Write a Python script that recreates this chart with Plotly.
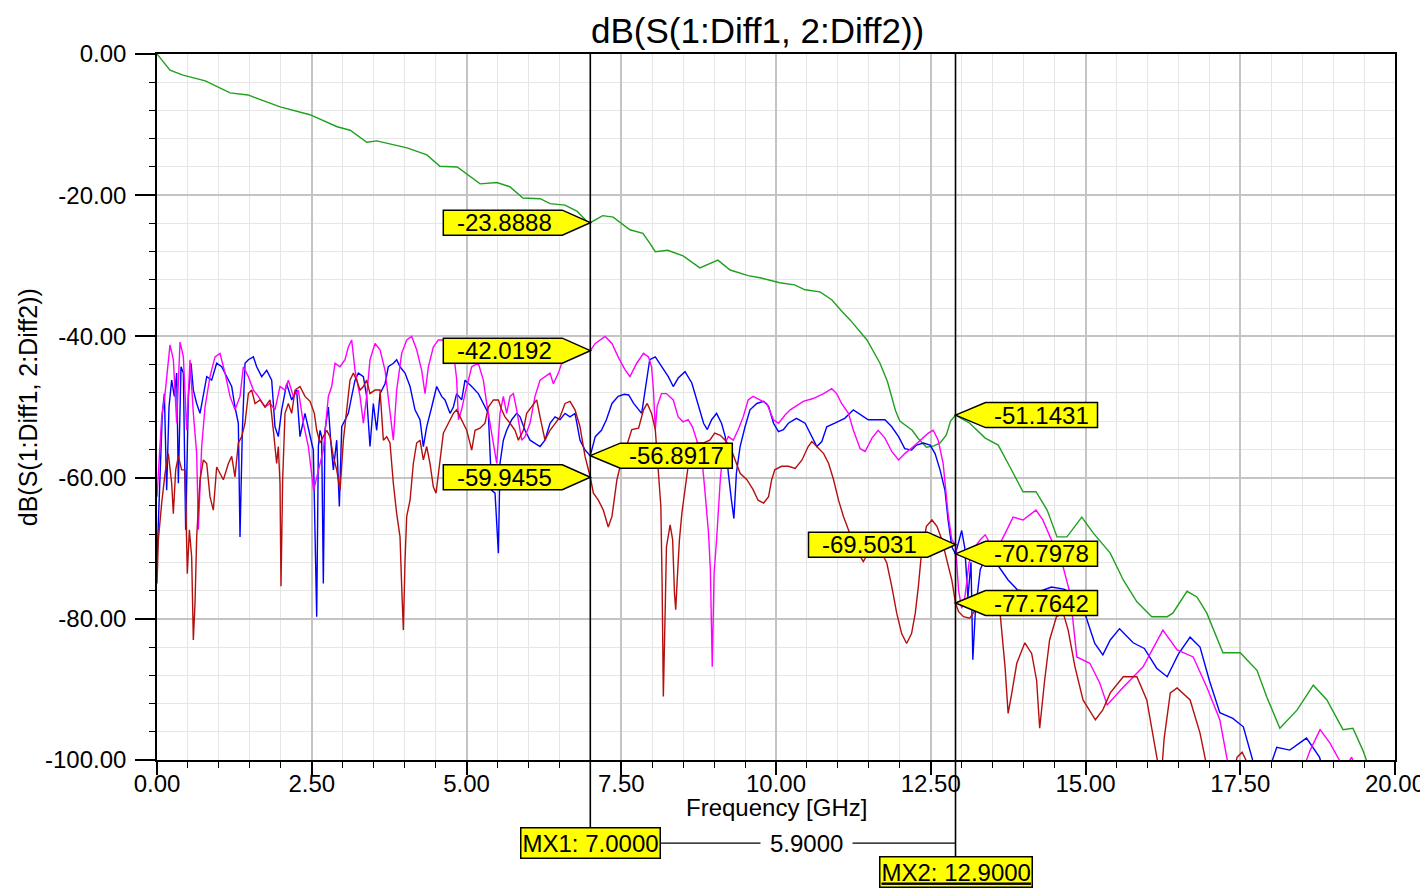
import plotly.graph_objects as go

# ---------------- data ----------------
green_freq = [0, 0.21, 0.42, 0.78, 1.18, 1.47, 1.99, 2.47, 2.91, 3.12, 3.39, 3.55, 4.04, 4.36, 4.57, 4.85,
              5.22, 5.49, 5.70, 5.91, 6.19, 6.35, 6.59, 6.79, 6.95, 7.0, 7.2, 7.37, 7.64, 7.85, 7.96, 8.05,
              8.25, 8.5, 8.77, 9.06, 9.26, 9.55, 9.74, 10.06, 10.3, 10.47, 10.71, 10.9, 11.07, 11.2, 11.47,
              11.68, 11.8, 11.93, 12.0, 12.2, 12.3, 12.43, 12.55, 12.65, 12.75, 12.82, 12.9, 13.13, 13.38,
              13.59, 13.78, 13.99, 14.2, 14.38, 14.54, 14.7, 14.94, 15.12, 15.4, 15.61, 15.83, 16.07, 16.32,
              16.41, 16.64, 16.8, 16.96, 17.22, 17.5, 17.77, 17.93, 18.14, 18.42, 18.68, 18.9, 19.16, 19.32,
              19.48, 19.6]
green_db = [0, -2.3, -3.0, -3.8, -5.5, -5.8, -7.5, -8.6, -10.3, -10.8, -12.5, -12.3, -13.3, -14.3, -15.9, -16.0,
            -18.4, -18.2, -18.8, -20.4, -20.5, -21.2, -21.4, -22.3, -23.75, -23.89, -22.9, -23.1, -24.9, -25.4, -26.8, -28.0,
            -27.8, -28.6, -30.3, -29.2, -30.6, -31.4, -31.7, -32.4, -32.7, -33.4, -33.7, -34.8, -36.5, -37.7, -40.5,
            -43.8, -46.4, -50.5, -52.0, -53.3, -54.5, -55.7, -55.5, -55.1, -54.0, -52.0, -51.14, -52.3, -54.4,
            -55.4, -58.5, -62.0, -62.0, -64.6, -68.4, -68.4, -65.6, -67.8, -70.7, -74.5, -77.6, -79.7, -79.7,
            -79.2, -76.1, -76.9, -79.2, -84.8, -84.8, -87.3, -91.1, -95.5, -92.9, -89.4, -91.5, -95.7, -95.5,
            -98.6, -101.5]

blue_freq = [0.0, 0.049, 0.086, 0.119, 0.156, 0.194, 0.237, 0.280, 0.318, 0.345, 0.388, 0.426, 0.463, 0.507, 0.550,
             0.587, 0.641, 0.695, 0.749, 0.803, 0.883, 0.964, 1.045, 1.126, 1.207, 1.260, 1.314, 1.341, 1.379, 1.422,
             1.476, 1.557, 1.610, 1.691, 1.772, 1.853, 1.906, 1.960, 2.014, 2.095, 2.176, 2.256, 2.310, 2.391, 2.445,
             2.499, 2.526, 2.580, 2.607, 2.634, 2.660, 2.687, 2.714, 2.768, 2.806, 2.849, 2.903, 2.946, 2.984, 3.037,
             3.091, 3.145, 3.199, 3.253, 3.334, 3.387, 3.441, 3.495, 3.549, 3.603, 3.684, 3.737, 3.818, 3.872, 3.926,
             4.007, 4.088, 4.168, 4.249, 4.303, 4.357, 4.438, 4.518, 4.599, 4.653, 4.734, 4.788, 4.841, 4.922, 4.976,
             5.046, 5.084, 5.191, 5.299, 5.353, 5.407, 5.461, 5.515, 5.541, 5.595, 5.649, 5.730, 5.811, 5.865, 5.945,
             6.026, 6.107, 6.188, 6.268, 6.349, 6.430, 6.511, 6.592, 6.672, 6.753, 6.834, 6.915, 7.0, 7.08, 7.18,
             7.26, 7.35, 7.45, 7.55, 7.62, 7.70, 7.83, 7.91, 7.96, 8.05, 8.15, 8.26, 8.34, 8.42, 8.53, 8.64, 8.75,
             8.83, 8.89, 8.96, 9.04, 9.12, 9.18, 9.23, 9.28, 9.32, 9.36, 9.42, 9.50, 9.58, 9.69, 9.80, 9.88, 9.96,
             10.04, 10.12, 10.20, 10.33, 10.47, 10.58, 10.66, 10.74, 10.82, 10.95, 11.11, 11.25, 11.38, 11.49, 11.63,
             11.76, 11.87, 11.98, 12.08, 12.19, 12.27, 12.38, 12.49, 12.57, 12.65, 12.73, 12.78, 12.84, 12.9, 12.95,
             13.0, 13.05, 13.1, 13.15, 13.18, 13.22, 13.3, 13.4, 13.55, 13.75, 13.9, 14.2, 14.45, 14.65, 14.8, 15.0,
             15.15, 15.28, 15.4, 15.55, 15.77, 15.95, 16.15, 16.32, 16.5, 16.69, 16.85, 17.0, 17.17, 17.38, 17.55,
             17.7, 17.85, 18.0, 18.09, 18.3, 18.57, 18.78, 18.9, 19.2]
blue_db = [-71.7, -58.0, -50.9, -48.1, -61.8, -50.0, -46.2, -48.5, -45.2, -60.8, -44.3, -45.2, -67.4, -48.5, -43.8,
           -47.6, -49.5, -50.9, -48.1, -45.7, -46.2, -43.8, -44.3, -45.7, -47.1, -50.0, -52.3, -68.4, -53.3, -43.8,
           -43.3, -42.9, -44.3, -45.7, -44.8, -46.2, -52.8, -54.2, -50.4, -46.7, -49.0, -47.6, -54.2, -50.9, -52.8,
           -55.1, -56.1, -79.7, -55.6, -53.3, -54.2, -75.0, -53.3, -50.0, -54.7, -58.9, -54.7, -64.1, -52.8, -51.8,
           -50.9, -48.5, -46.2, -45.2, -45.7, -48.5, -55.6, -49.5, -53.3, -48.1, -46.7, -44.3, -43.8, -43.3, -44.3,
           -45.2, -47.1, -50.4, -51.8, -55.6, -52.8, -50.0, -47.1, -48.5, -49.0, -50.9, -50.0, -48.1, -49.0, -46.2,
           -46.7, -47.1, -48.1, -50.0, -50.9, -61.8, -62.2, -70.7, -58.0, -54.7, -53.3, -51.8, -50.9, -51.4, -53.3,
           -54.7, -55.1, -55.6, -54.7, -52.3, -51.4, -51.8, -50.9, -51.4, -50.9, -54.7, -56.1, -56.89, -54.2, -53.3,
           -51.8, -49.5, -48.5, -48.2, -48.3, -49.5, -50.9, -46.2, -43.3, -42.9, -44.3, -45.7, -47.1, -45.9, -45.0,
           -46.6, -49.9, -52.3, -53.2, -51.8, -50.9, -52.3, -54.2, -59.4, -63.2, -65.8, -59.4, -55.6, -52.8, -50.4,
           -49.5, -49.2, -49.9, -52.3, -53.5, -53.2, -52.3, -51.6, -52.3, -54.2, -55.6, -54.9, -52.8, -52.3, -51.6,
           -50.4, -51.1, -51.8, -51.8, -51.8, -52.8, -54.2, -55.9, -56.1, -55.4, -55.1, -55.4, -56.6, -58.9, -61.8,
           -66.0, -69.8, -70.80, -69.0, -67.5, -70.0, -77.0, -72.0, -85.8, -79.0, -73.0, -71.0, -72.0, -74.5, -75.9,
           -76.3, -75.5, -75.8, -76.5, -79.5, -83.5, -85.1, -83.0, -81.4, -83.4, -84.2, -87.0, -88.2, -85.0, -82.6,
           -84.0, -88.7, -93.3, -94.1, -95.3, -100.0, -103.0, -100.5, -98.2, -98.6, -96.9, -99.6, -103.0, -105.0]

magenta_freq = [0.0, 0.033, 0.076, 0.130, 0.183, 0.210, 0.264, 0.318, 0.372, 0.426, 0.480, 0.533, 0.587, 0.641, 0.668,
                0.722, 0.776, 0.856, 0.937, 1.018, 1.099, 1.180, 1.260, 1.341, 1.395, 1.476, 1.557, 1.637, 1.745, 1.826,
                1.906, 1.987, 2.068, 2.122, 2.203, 2.283, 2.364, 2.445, 2.53, 2.634, 2.687, 2.768, 2.822, 2.876, 2.957,
                3.037, 3.091, 3.145, 3.199, 3.280, 3.334, 3.387, 3.441, 3.522, 3.603, 3.684, 3.764, 3.818, 3.872, 3.953,
                4.034, 4.114, 4.195, 4.276, 4.330, 4.384, 4.464, 4.545, 4.626, 4.70, 4.78, 4.84, 4.87, 4.92, 4.98, 5.03,
                5.084, 5.191, 5.272, 5.326, 5.407, 5.461, 5.488, 5.541, 5.595, 5.649, 5.703, 5.757, 5.811, 5.891, 5.945,
                6.026, 6.107, 6.188, 6.268, 6.349, 6.403, 6.484, 6.538, 6.592, 6.75, 6.9, 7.0, 7.08, 7.24, 7.35, 7.45,
                7.56, 7.64, 7.75, 7.86, 7.94, 7.99, 8.02, 8.05, 8.08, 8.15, 8.23, 8.34, 8.42, 8.50, 8.58, 8.65, 8.72,
                8.80, 8.85, 8.91, 8.94, 8.97, 9.00, 9.04, 9.10, 9.15, 9.23, 9.31, 9.39, 9.47, 9.55, 9.63, 9.74, 9.85,
                9.96, 10.04, 10.15, 10.23, 10.44, 10.60, 10.77, 10.90, 10.98, 11.06, 11.17, 11.25, 11.36, 11.44, 11.55,
                11.65, 11.76, 11.87, 11.98, 12.08, 12.22, 12.33, 12.46, 12.54, 12.62, 12.70, 12.78, 12.84, 12.9, 12.95,
                13.0, 13.05, 13.12, 13.2, 13.3, 13.38, 13.54, 13.73, 13.83, 13.99, 14.2, 14.31, 14.43, 14.64, 14.75,
                14.86, 15.07, 15.23, 15.35, 15.61, 15.93, 16.25, 16.48, 16.74, 16.96, 17.17, 17.29, 17.5, 18.4, 18.63,
                18.79, 18.95, 19.1, 19.2, 19.3, 19.4]
magenta_db = [-62.7, -57.5, -51.4, -48.1, -43.8, -41.2, -43.3, -52.3, -40.8, -42.9, -53.3, -43.3, -50.9, -56.6, -67.4,
              -55.6, -50.0, -45.7, -42.9, -42.4, -45.2, -48.5, -50.4, -48.5, -44.3, -45.7, -47.6, -48.5, -50.0, -49.5,
              -50.4, -47.1, -47.6, -46.2, -48.5, -47.6, -52.3, -55.6, -61.8, -58.0, -56.1, -48.5, -47.1, -43.8, -44.3,
              -43.3, -41.5, -40.5, -44.8, -48.5, -52.3, -48.5, -43.3, -41.0, -41.9, -44.8, -50.9, -54.7, -47.6, -42.4,
              -40.5, -40.0, -41.9, -44.8, -48.1, -44.3, -41.5, -40.5, -40.5, -40.3, -41.5, -46.0, -51.8, -50.4, -48.0, -46.2,
              -44.3, -43.8, -46.2, -49.5, -53.7, -57.0, -58.0, -50.9, -48.5, -50.9, -48.5, -48.1, -50.4, -54.7, -54.2,
              -52.3, -48.5, -46.2, -45.7, -45.2, -46.7, -45.2, -43.8, -42.9, -42.6, -42.3, -42.02, -41.0, -40.0, -41.0, -42.9,
              -44.7, -45.7, -43.8, -42.4, -42.9, -44.3, -47.6, -53.2, -49.9, -48.1, -48.1, -49.0, -51.4, -52.1, -51.8, -52.8, -54.7,
              -57.0, -61.7, -67.9, -73.1, -86.8, -73.5, -68.8, -60.3, -55.6, -54.2, -54.7, -53.2, -51.4, -49.0, -48.5, -49.0, -49.5,
              -51.8, -52.3, -51.1, -50.4, -49.2, -48.8, -48.1, -47.4, -48.1, -49.5, -50.9, -53.3, -55.9, -56.3, -54.4,
              -53.3, -54.4, -56.3, -57.5, -56.6, -55.6, -54.7, -53.7, -53.3, -54.7, -58.0, -65.1, -68.8, -69.50, -76.0,
              -78.5, -77.0, -72.0, -70.0, -68.8, -68.1, -70.7, -67.4, -65.6, -66.0, -64.6, -66.0, -68.4, -72.7, -76.4,
              -85.4, -86.3, -89.1, -92.2, -89.7, -86.8, -81.6, -84.4, -85.4, -89.7, -94.3, -100.0, -104.0, -104.0, -98.6,
              -95.7, -97.6, -100.0, -101.0, -99.6, -102.0]

red_freq = [0.0, 0.022, 0.076, 0.130, 0.183, 0.237, 0.264, 0.302, 0.345, 0.399, 0.453, 0.490, 0.523, 0.560, 0.587,
            0.614, 0.641, 0.695, 0.749, 0.803, 0.856, 0.910, 0.964, 1.018, 1.072, 1.153, 1.207, 1.260, 1.314, 1.368,
            1.422, 1.476, 1.530, 1.584, 1.664, 1.745, 1.826, 1.880, 1.933, 1.960, 1.987, 2.003, 2.030, 2.068, 2.122,
            2.176, 2.230, 2.310, 2.391, 2.472, 2.542, 2.580, 2.634, 2.687, 2.741, 2.795, 2.849, 2.903, 2.957, 3.011,
            3.064, 3.118, 3.172, 3.226, 3.280, 3.334, 3.387, 3.441, 3.522, 3.603, 3.657, 3.711, 3.764, 3.818, 3.872,
            3.926, 3.953, 3.980, 4.007, 4.034, 4.088, 4.141, 4.195, 4.249, 4.303, 4.357, 4.410, 4.464, 4.508, 4.572,
            4.626, 4.707, 4.788, 4.841, 4.922, 5.003, 5.030, 5.084, 5.138, 5.218, 5.299, 5.353, 5.434, 5.515, 5.568,
            5.622, 5.703, 5.784, 5.838, 5.918, 5.972, 6.053, 6.134, 6.188, 6.268, 6.349, 6.430, 6.511, 6.592, 6.672,
            6.753, 6.834, 6.915, 7.0, 7.05, 7.13, 7.21, 7.29, 7.35, 7.43, 7.48, 7.55, 7.61, 7.67, 7.78, 7.86, 7.92,
            7.99, 8.05, 8.10, 8.14, 8.16, 8.18, 8.21, 8.23, 8.29, 8.33, 8.36, 8.38, 8.41, 8.44, 8.48, 8.53, 8.58,
            8.64, 8.72, 8.83, 8.93, 9.01, 9.10, 9.18, 9.26, 9.34, 9.42, 9.53, 9.63, 9.71, 9.80, 9.88, 9.93, 9.98,
            10.09, 10.2, 10.31, 10.42, 10.52, 10.58, 10.66, 10.77, 10.85, 10.93, 11.01, 11.09, 11.17, 11.25, 11.33,
            11.41, 11.49, 11.60, 11.71, 11.79, 11.87, 11.95, 12.03, 12.11, 12.19, 12.25, 12.30, 12.35, 12.43, 12.52,
            12.60, 12.68, 12.76, 12.84, 12.9, 12.95, 13.03, 13.13, 13.24, 13.4, 13.5, 13.62, 13.70, 13.75, 13.80,
            13.89, 14.02, 14.13, 14.21, 14.26, 14.34, 14.42, 14.53, 14.64, 14.72, 14.83, 14.96, 15.16, 15.28, 15.40,
            15.61, 15.83, 15.99, 16.09, 16.17, 16.22, 16.27, 16.37, 16.48, 16.69, 16.85, 16.95, 17.1, 17.35, 17.45,
            17.53, 17.62, 17.8]
red_db = [-75.0, -68.8, -63.6, -59.4, -56.6, -60.8, -65.1, -58.9, -57.0, -58.9, -58.9, -73.6, -67.4, -71.2, -83.0,
          -77.8, -68.4, -60.3, -57.5, -58.0, -62.7, -64.6, -58.5, -59.4, -60.3, -58.0, -57.0, -59.9, -55.1, -54.2,
          -52.3, -48.1, -47.6, -49.5, -49.0, -50.0, -49.0, -53.3, -58.0, -55.6, -60.8, -75.4, -60.3, -50.9, -49.5,
          -50.9, -47.6, -47.1, -48.5, -49.2, -50.9, -53.3, -55.1, -54.2, -53.3, -54.2, -57.0, -58.9, -61.8, -54.7,
          -50.0, -46.2, -45.2, -46.2, -47.6, -47.1, -46.2, -48.1, -47.6, -47.6, -54.7, -54.2, -55.1, -60.8, -65.1,
          -68.4, -75.4, -81.6, -71.7, -65.5, -63.2, -58.0, -55.1, -54.7, -57.5, -55.6, -58.0, -61.3, -62.2, -58.0,
          -53.7, -52.3, -50.9, -50.4, -51.8, -53.3, -54.2, -56.1, -53.3, -53.0, -52.3, -50.0, -49.0, -49.0, -50.4,
          -51.4, -52.3, -53.3, -54.7, -53.3, -50.9, -50.0, -49.0, -51.4, -54.7, -53.3, -52.3, -51.4, -49.5, -49.2,
          -50.4, -52.8, -57.0, -59.95, -62.2, -63.2, -64.6, -67.0, -65.5, -60.3, -58.5, -56.5, -54.7, -53.2, -53.0, -50.4, -49.5,
          -50.9, -53.2, -58.9, -64.1, -75.0, -91.0, -78.7, -69.8, -66.7, -68.8, -76.4, -78.7, -73.5, -68.8, -65.0, -61.3, -58.4,
          -56.5, -55.1, -55.1, -54.7, -53.7, -54.0, -54.7, -55.6, -57.5, -59.4, -60.3, -61.7, -63.2, -63.6, -62.7, -60.3, -58.9,
          -58.4, -58.4, -58.7, -57.5, -55.6, -54.9, -55.6, -56.6, -58.0, -60.3, -63.2, -65.5, -67.4, -69.3, -70.7,
          -71.9, -70.7, -70.5, -70.7, -72.1, -75.4, -79.2, -82.1, -83.5, -82.1, -79.2, -75.4, -70.7, -66.9, -66.0,
          -66.9, -68.8, -71.7, -74.5, -77.76, -79.0, -79.7, -79.9, -78.5, -77.5, -78.0, -79.2, -86.8, -93.4, -91.0,
          -86.3, -83.4, -84.9, -88.7, -95.5, -88.7, -83.0, -79.7, -79.2, -81.6, -86.8, -91.5, -94.3, -92.9, -90.5,
          -88.2, -88.2, -91.5, -96.2, -100.0, -103.0, -97.0, -90.5, -89.8, -91.5, -96.2, -100.5, -105.0, -103.0, -99.6,
          -98.9, -100.5, -104.0]

# marker positions and readouts
marker_names = ["MX1", "MX2"]
marker_freqs = [7.0, 12.9]
marker_delta = 5.9
mx1_readouts = [-23.8888, -42.0192, -56.8917, -59.9455]
mx1_sides = ["left", "left", "right", "left"]
mx2_readouts = [-51.1431, -69.5031, -70.7978, -77.7642]
mx2_sides = ["right", "left", "right", "right"]

y_tick_vals = [0, -20, -40, -60, -80, -100]
y_tick_text = ["0.00", "-20.00", "-40.00", "-60.00", "-80.00", "-100.00"]
x_tick_vals = [0, 2.5, 5, 7.5, 10, 12.5, 15, 17.5, 20]
x_tick_text = ["0.00", "2.50", "5.00", "7.50", "10.00", "12.50", "15.00", "17.50", "20.00"]

title_text = "dB(S(1:Diff1, 2:Diff2))"
x_title = "Frequency [GHz]"

# ---------------- figure ----------------
FONT = "Liberation Sans, Arial, sans-serif"
series = [
    (green_freq, green_db, "#1fa01f"),
    (blue_freq, blue_db, "#0000ff"),
    (magenta_freq, magenta_db, "#ff00ff"),
    (red_freq, red_db, "#b40f0f"),
]

fig = go.Figure()
for fx, fy, col in series:
    fig.add_trace(go.Scatter(x=fx, y=fy, mode="lines", line=dict(color=col, width=1.4),
                             showlegend=False, hoverinfo="skip"))

shapes = []
annotations = []

# marker vertical lines
marker_line_bottom = [-0.1176, -0.1586]
for mf, yb in zip(marker_freqs, marker_line_bottom):
    shapes.append(dict(type="line", xref="x", yref="paper", x0=mf, x1=mf, y0=yb, y1=1,
                       line=dict(color="black", width=1.6), layer="above"))

# delta line
shapes.append(dict(type="line", xref="x", yref="paper", x0=marker_freqs[0], x1=marker_freqs[1],
                   y0=-0.1176, y1=-0.1176, line=dict(color="black", width=1.3), layer="above"))


def readout(freq, val, side):
    if side == "left":
        path = "M0,0 L-28,12.5 L-147,12.5 L-147,-12.5 L-28,-12.5 Z"
        shift = -86
    else:
        path = "M0,0 L30,12.5 L142,12.5 L142,-12.5 L30,-12.5 Z"
        shift = 86
    shapes.append(dict(type="path", xref="x", yref="y", xsizemode="pixel", ysizemode="pixel",
                       xanchor=freq, yanchor=val, path=path, fillcolor="#ffff00",
                       line=dict(color="black", width=1.5), layer="above"))
    annotations.append(dict(x=freq, y=val, xref="x", yref="y", text="%.4f" % val, showarrow=False,
                            xshift=shift, yshift=0, font=dict(family=FONT, size=24, color="black"),
                            xanchor="center", yanchor="middle"))


for v, s in zip(mx1_readouts, mx1_sides):
    readout(marker_freqs[0], v, s)
for v, s in zip(mx2_readouts, mx2_sides):
    readout(marker_freqs[1], v, s)

# marker name boxes
annotations.append(dict(x=marker_freqs[0], y=-0.1176, xref="x", yref="paper",
                        text="%s: %.4f" % (marker_names[0], marker_freqs[0]), showarrow=False,
                        font=dict(family=FONT, size=24, color="black"), bgcolor="#ffff00",
                        bordercolor="black", borderwidth=1.5, borderpad=1, xanchor="center", yanchor="middle"))
annotations.append(dict(x=marker_freqs[1], y=-0.1586, xref="x", yref="paper",
                        text="<u>%s: %.4f</u>" % (marker_names[1], marker_freqs[1]), showarrow=False,
                        font=dict(family=FONT, size=24, color="black"), bgcolor="#ffff00",
                        bordercolor="black", borderwidth=1.5, borderpad=1, xanchor="center", yanchor="middle"))
annotations.append(dict(x=(marker_freqs[0] + marker_freqs[1]) / 2, y=-0.1176, xref="x", yref="paper",
                        text="%.4f" % marker_delta, showarrow=False, xshift=34,
                        font=dict(family=FONT, size=24, color="black"), bgcolor="white",
                        borderpad=9, xanchor="center", yanchor="middle"))

# title
annotations.append(dict(x=0.485, y=1.0326, xref="paper", yref="paper", yanchor="middle",
                        text=title_text, showarrow=False,
                        font=dict(family=FONT, size=35, color="black")))
# x axis title
annotations.append(dict(x=0.5, y=-0.0666, xref="paper", yref="paper", yanchor="middle",
                        text=x_title, showarrow=False,
                        font=dict(family=FONT, size=24, color="black")))
# y axis title
annotations.append(dict(x=-0.104, y=0.5, xref="paper", yref="paper", xanchor="center", yanchor="middle",
                        text=title_text, showarrow=False, textangle=-90,
                        font=dict(family=FONT, size=25, color="black")))

fig.update_layout(
    width=1428, height=888, autosize=False,
    margin=dict(l=149, r=41, t=46, b=136),
    paper_bgcolor="white", plot_bgcolor="white",
    shapes=shapes, annotations=annotations,
    font=dict(family=FONT, color="black"),
    xaxis=dict(range=[0, 20], tickmode="array", tickvals=x_tick_vals, ticktext=x_tick_text,
               ticks="outside", ticklen=13, tickwidth=1.5, tickcolor="black", ticklabelstandoff=-12,
               showline=True, linecolor="black", linewidth=1.6, mirror=True, automargin=False,
               showgrid=True, gridcolor="#c4c4c4", gridwidth=1.6, zeroline=False,
               tickfont=dict(family=FONT, size=24, color="black"),
               minor=dict(tickmode="linear", tick0=0, dtick=0.5, ticks="outside", ticklen=6,
                          tickwidth=1.3, tickcolor="black", showgrid=True, gridcolor="#e6e6e6", gridwidth=1.3)),
    yaxis=dict(range=[-100, 0], tickmode="array", tickvals=y_tick_vals, ticktext=y_tick_text,
               ticks="outside", ticklen=20, tickwidth=1.5, tickcolor="black", ticklabelstandoff=4,
               showline=True, linecolor="black", linewidth=1.6, mirror=True, automargin=False,
               showgrid=True, gridcolor="#c4c4c4", gridwidth=1.6, zeroline=False,
               tickfont=dict(family=FONT, size=24, color="black"),
               minor=dict(tickmode="linear", tick0=0, dtick=4, ticks="outside", ticklen=6,
                          tickwidth=1.3, tickcolor="black", showgrid=True, gridcolor="#e6e6e6", gridwidth=1.3)),
)

fig.write_html("out.html")
